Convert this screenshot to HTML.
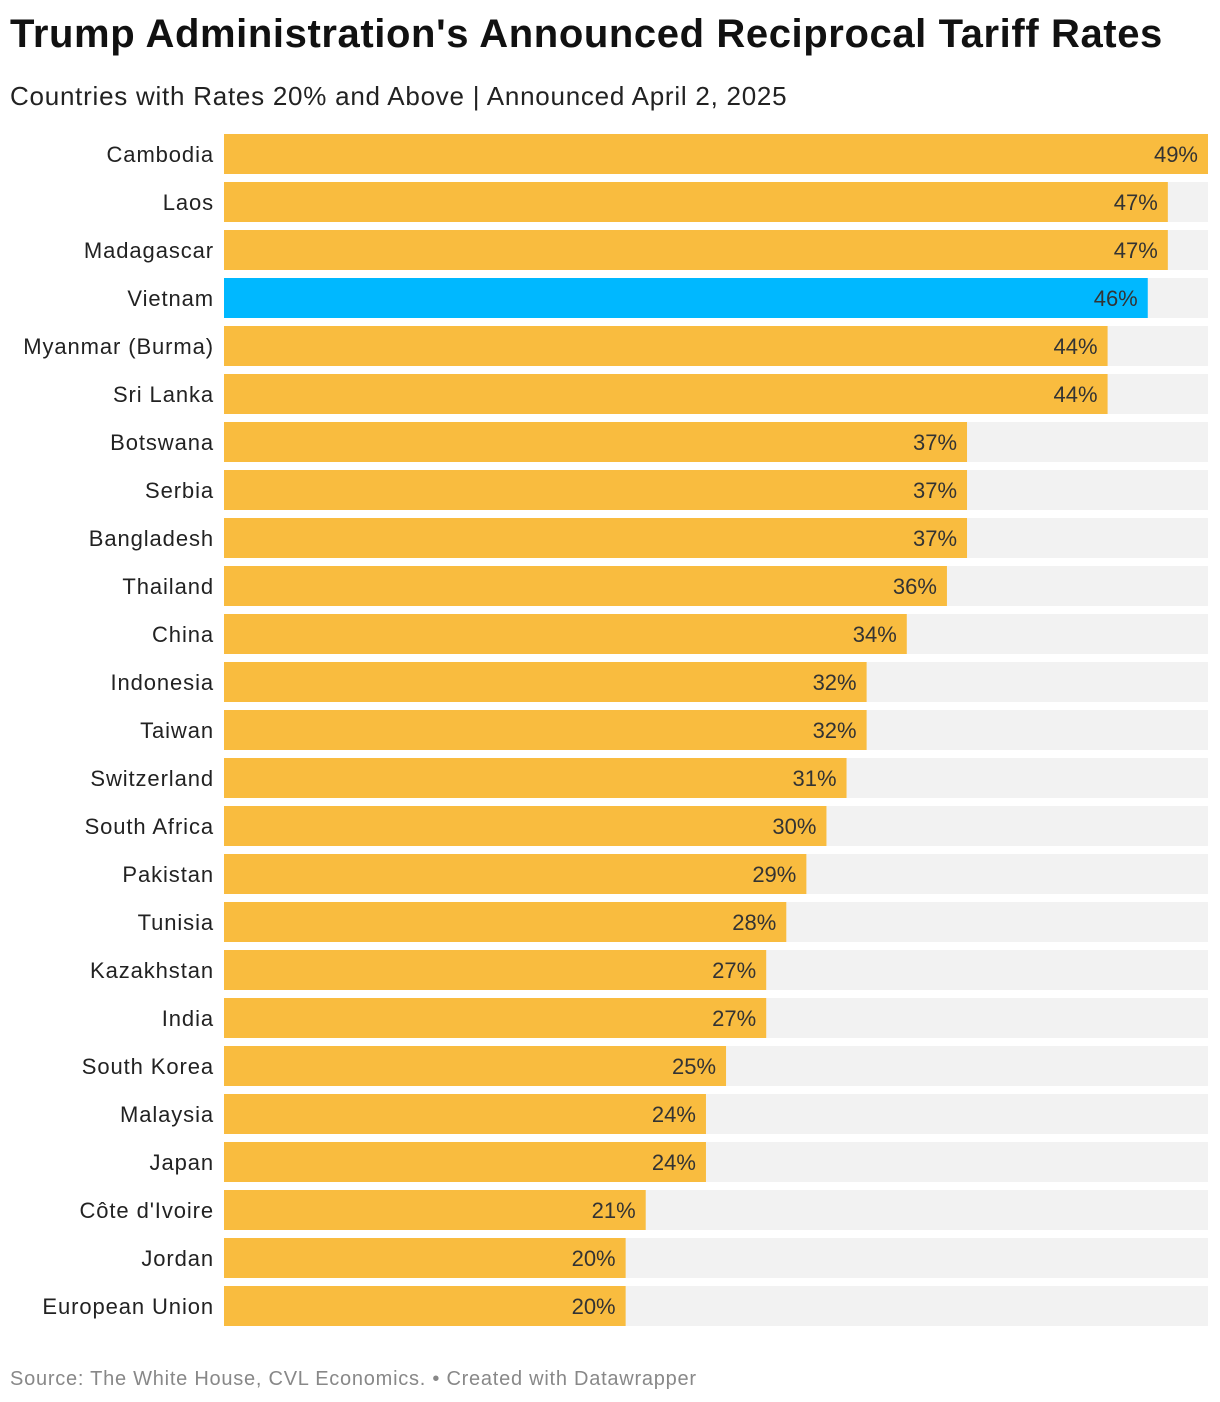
<!DOCTYPE html>
<html><head><meta charset="utf-8"><style>
body{margin:0;background:#fff;width:1220px;height:1402px;overflow:hidden;font-family:"Liberation Sans",Roboto,sans-serif;position:relative}
#title{position:absolute;left:10px;top:12px;font-size:40px;font-weight:bold;color:#111;letter-spacing:0.6px;margin:0}
#sub{position:absolute;left:10px;top:81px;font-size:26px;color:#222;letter-spacing:0.75px}
#src{position:absolute;left:10px;top:1368px;font-size:20px;color:#888;letter-spacing:0.75px}
</style></head><body>
<h1 id="title">Trump Administration's Announced Reciprocal Tariff Rates</h1>
<div id="sub">Countries with Rates 20% and Above | Announced April 2, 2025</div>
<svg id="chart" width="1220" height="1340" style="position:absolute;left:0;top:0"></svg>
<div id="src">Source: The White House, CVL Economics. • Created with Datawrapper</div>
<script>
const categories=["Cambodia","Laos","Madagascar","Vietnam","Myanmar (Burma)","Sri Lanka","Botswana","Serbia","Bangladesh","Thailand","China","Indonesia","Taiwan","Switzerland","South Africa","Pakistan","Tunisia","Kazakhstan","India","South Korea","Malaysia","Japan","Côte d'Ivoire","Jordan","European Union"];
const values=[49,47,47,46,44,44,37,37,37,36,34,32,32,31,30,29,28,27,27,25,24,24,21,20,20];
const highlight=["Vietnam"];
const svg=document.getElementById('chart');
const NS='http://www.w3.org/2000/svg';
const x0=224,x1=1208,maxV=Math.max(...values);
const xs=v=>x0+(x1-x0)*v/maxV;
const ys=i=>134+i*48;
const bh=40;
function mk(t,a){const e=document.createElementNS(NS,t);for(const k in a)e.setAttribute(k,a[k]);svg.appendChild(e);return e;}
categories.forEach((c,i)=>{
  const y=ys(i);
  const bg=mk('rect',{x:x0,y:y,width:x1-x0,height:bh,fill:'#f2f2f2'});
  
  
  const b=mk('rect',{x:x0,y:y,width:xs(values[i])-x0,height:bh,fill:highlight.includes(c)?'#00b8ff':'#f9bc3f'});
  
  
  const l=mk('text',{x:214,y:y+28,'text-anchor':'end','font-size':22,fill:'#222','letter-spacing':'0.9'});
  l.textContent=c;
  
  
  const v=mk('text',{x:xs(values[i])-10,y:y+28,'text-anchor':'end','font-size':22,fill:'#333'});
  v.textContent=values[i]+'%';
  
  
});
</script>
</body></html>
